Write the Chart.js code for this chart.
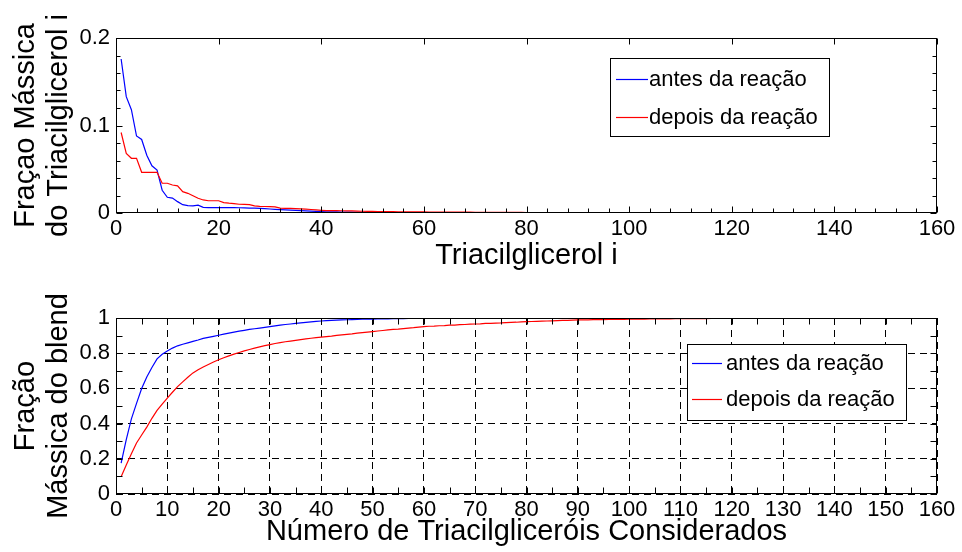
<!DOCTYPE html>
<html>
<head>
<meta charset="utf-8">
<script src="https://cdn.jsdelivr.net/npm/chart.js@4/dist/chart.umd.min.js"></script>
<style>
  html, body { margin: 0; padding: 0; background: #fff; }
  #wrap { position: relative; width: 962px; height: 552px; }
  canvas { position: absolute; left: 0; }
</style>
</head>
<body>
<div id="wrap">
  <canvas id="topChart" width="962" height="276" style="top:0"></canvas>
  <canvas id="bottomChart" width="962" height="276" style="top:276px"></canvas>
</div>
<script>
// ---- data ----
const labelAntes = 'antes da reação';
const labelDepois = 'depois da reação';

// mass fraction of each triacylglycerol i (i = 1, 2, ...)
const fracAntes = [
  0.176, 0.133, 0.118, 0.088, 0.084, 0.066, 0.054, 0.049, 0.026, 0.018,
  0.017, 0.013, 0.0095, 0.0085, 0.0082, 0.009, 0.0065, 0.0062, 0.0062, 0.0062,
  0.0062, 0.0062, 0.0061, 0.0060, 0.0058, 0.0056, 0.0055, 0.0052, 0.0050, 0.0046,
  0.0042, 0.0039, 0.0036, 0.0033, 0.0030, 0.0027, 0.0024, 0.0021, 0.0018, 0.0016,
  0.0014, 0.0013, 0.0012, 0.0011, 0.0010, 0.0009, 0.0008, 0.0008, 0.0007, 0.0007,
  0.0006, 0.0006, 0.0005, 0.0005, 0.0005, 0.0004, 0.0004, 0.0004, 0.0003, 0.0003,
  0.0003, 0.0003, 0.0002, 0.0002, 0.0002, 0.0002, 0.0001, 0.0001, 0.0001, 0.0001,
  0.0001
];
const fracDepois = [
  0.092, 0.068, 0.0625, 0.0625, 0.0465, 0.0465, 0.0465, 0.0465, 0.034, 0.034,
  0.032, 0.031, 0.0244, 0.0225, 0.0198, 0.0168, 0.0149, 0.014, 0.014, 0.014,
  0.0118, 0.0112, 0.0108, 0.0100, 0.0098, 0.0095, 0.0082, 0.0076, 0.0074, 0.0072,
  0.0070, 0.0056, 0.0053, 0.0052, 0.0050, 0.0047, 0.0044, 0.0040, 0.0035, 0.0031,
  0.0028, 0.0027, 0.0027, 0.0026, 0.0025, 0.0024, 0.0022, 0.0020, 0.0019, 0.0018,
  0.0017, 0.0016, 0.0016, 0.0015, 0.0014, 0.0014, 0.0013, 0.0013, 0.0012, 0.0012,
  0.0011, 0.0011, 0.0010, 0.0010, 0.0010, 0.0009, 0.0009, 0.0009, 0.0009, 0.0008,
  0.0008, 0.0008, 0.0008, 0.0008, 0.0007, 0.0007, 0.0007, 0.0007, 0.0007, 0.0006,
  0.0006, 0.0006, 0.0006, 0.0006, 0.0005, 0.0005, 0.0005, 0.0005, 0.0005, 0.0005,
  0.0004, 0.0004, 0.0004, 0.0004, 0.0004, 0.0004, 0.0004, 0.0004, 0.0004, 0.0003,
  0.0003, 0.0003, 0.0003, 0.0003, 0.0003, 0.0003, 0.0003, 0.0003, 0.0003, 0.0003,
  0.0002, 0.0002, 0.0002, 0.0002, 0.0002, 0.0002, 0.0002, 0.0002, 0.0002, 0.0002,
  0.0002, 0.0002, 0.0002, 0.0002, 0.0002, 0.0001, 0.0001, 0.0001, 0.0001, 0.0001,
  0.0001
];

// blend mass fraction covered by the first n triacylglycerols
const blendAntes = [
  0.176, 0.309, 0.427, 0.515, 0.599, 0.665, 0.719, 0.768, 0.794, 0.812,
  0.829, 0.842, 0.851, 0.859, 0.867, 0.875, 0.884, 0.890, 0.896, 0.902,
  0.908, 0.914, 0.920, 0.925, 0.930, 0.935, 0.939, 0.943, 0.947, 0.951,
  0.955, 0.959, 0.963, 0.966, 0.969, 0.972, 0.975, 0.978, 0.981, 0.983,
  0.985, 0.987, 0.988, 0.989, 0.990, 0.991, 0.992, 0.993, 0.9935, 0.994,
  0.9945, 0.995, 0.9955, 0.996, 0.9965, 0.997, 0.9975, 0.998, 0.9982, 0.9984,
  0.9986, 0.9988, 0.999, 0.9992, 0.9994, 0.9996, 0.9997, 0.9998, 0.9999, 1.0,
  1.0
];
const blendDepois = [
  0.098, 0.165, 0.228, 0.290, 0.335, 0.380, 0.430, 0.475, 0.510, 0.545,
  0.578, 0.610, 0.637, 0.663, 0.688, 0.706, 0.722, 0.736, 0.750, 0.763,
  0.774, 0.785, 0.795, 0.804, 0.813, 0.821, 0.829, 0.836, 0.843, 0.849,
  0.855, 0.860, 0.865, 0.869, 0.873, 0.877, 0.881, 0.885, 0.888, 0.891,
  0.894, 0.897, 0.901, 0.904, 0.907, 0.910, 0.914, 0.917, 0.920, 0.923,
  0.926, 0.929, 0.932, 0.935, 0.937, 0.940, 0.943, 0.945, 0.948, 0.951,
  0.953, 0.954, 0.956, 0.957, 0.959, 0.960, 0.962, 0.963, 0.965, 0.966,
  0.967, 0.969, 0.970, 0.971, 0.972, 0.974, 0.975, 0.976, 0.978, 0.979,
  0.980, 0.981, 0.982, 0.983, 0.984, 0.985, 0.986, 0.987, 0.988, 0.989,
  0.9894, 0.9898, 0.9902, 0.9906, 0.991, 0.9914, 0.9918, 0.9922, 0.9926, 0.993,
  0.9933, 0.9936, 0.9939, 0.9942, 0.9945, 0.9948, 0.9951, 0.9954, 0.9957, 0.996,
  0.9962, 0.9964, 0.9966, 0.9968, 0.997, 0.9972, 0.9974, 0.9976, 0.9978, 0.998,
  0.9982, 0.9984, 0.9986, 0.9988, 0.999, 0.9992, 0.9994, 0.9996, 0.9998, 0.9999,
  1.0
];

// tick labels
const topXTicks = [0, 20, 40, 60, 80, 100, 120, 140, 160];
const topYTicks = [0, 0.1, 0.2];
const bottomXTicks = [0, 10, 20, 30, 40, 50, 60, 70, 80, 90, 100, 110, 120, 130, 140, 150, 160];
const bottomYTicks = [0, 0.2, 0.4, 0.6, 0.8, 1];

// ---- styling helpers ----
const FONT = '"Liberation Sans", Arial, Helvetica, sans-serif';
const BLUE = '#0000ff';
const RED = '#ff0000';
const SERIES_COLORS = [BLUE, RED];

const toPoints = arr => arr.map((v, k) => ({ x: k + 1, y: v }));
const fmt = v => String(Math.round(v * 10) / 10);
const stepsBetween = (min, max, step) => {
  const out = [];
  for (let k = 0; min + k * step <= max + 1e-9; k++) out.push(min + k * step);
  return out;
};

// plot frame with inward tick marks
const frameTicks = {
  id: 'frameTicks',
  afterDatasetsDraw(chart, args, o) {
    const { ctx, chartArea: a, scales: { x, y } } = chart;
    const L = Math.round(a.left) + 0.5, R = Math.round(a.right) - 0.5;
    const T = Math.round(a.top) + 0.5, B = Math.round(a.bottom) - 0.5;
    ctx.save();
    ctx.strokeStyle = '#000';
    ctx.lineWidth = 1;
    ctx.setLineDash([]);
    ctx.beginPath();
    stepsBetween(x.min, x.max, o.xStep).forEach(v => {
      const px = Math.round(x.getPixelForValue(v)) + 0.5;
      const major = Math.abs(v / o.xMajor - Math.round(v / o.xMajor)) < 1e-6;
      const len = major ? o.majorLen : o.minorLen;
      ctx.moveTo(px, B); ctx.lineTo(px, B - len);
      if (major || o.topMinor) { ctx.moveTo(px, T); ctx.lineTo(px, T + len); }
    });
    stepsBetween(y.min, y.max, o.yStep).forEach(v => {
      const py = Math.round(y.getPixelForValue(v)) + 0.5;
      const major = Math.abs(v / o.yMajor - Math.round(v / o.yMajor)) < 1e-6;
      const len = major ? o.majorLen : o.minorLen;
      ctx.moveTo(L, py); ctx.lineTo(L + len, py);
      ctx.moveTo(R, py); ctx.lineTo(R - len, py);
    });
    ctx.stroke();
    ctx.strokeRect(L, T, R - L, B - T);
    ctx.restore();
  }
};

// boxed legend inside the plot area
const boxLegend = {
  id: 'boxLegend',
  afterDraw(chart, args, o) {
    const ctx = chart.ctx;
    ctx.save();
    ctx.setLineDash([]);
    ctx.fillStyle = '#ffffff';
    ctx.fillRect(o.left, o.top, o.width, o.height);
    ctx.strokeStyle = '#000000';
    ctx.lineWidth = 1;
    ctx.strokeRect(o.left + 0.5, o.top + 0.5, o.width, o.height);
    ctx.font = '22px ' + FONT;
    ctx.textBaseline = 'middle';
    ctx.textAlign = 'left';
    chart.data.datasets.forEach((ds, i) => {
      const ry = o.top + o.rows[i];
      const yy = Math.round(ry) + 0.5;
      ctx.beginPath();
      ctx.lineWidth = 1.2;
      ctx.strokeStyle = SERIES_COLORS[i];
      ctx.moveTo(o.left + o.lineStart, yy);
      ctx.lineTo(o.left + o.lineEnd, yy);
      ctx.stroke();
      ctx.fillStyle = '#000000';
      ctx.fillText(ds.label, o.left + o.textStart, ry + 1);
    });
    ctx.restore();
  }
};

function lineSet(label, values, color, order) {
  return {
    label, data: toPoints(values), borderColor: color, backgroundColor: color,
    borderWidth: 1.2, pointRadius: 0, tension: 0, fill: false, order
  };
}

function makeChart(id, cfg) {
  return new Chart(document.getElementById(id), {
    type: 'line',
    data: {
      datasets: [
        lineSet(labelAntes, cfg.antes, SERIES_COLORS[0], 1),
        lineSet(labelDepois, cfg.depois, SERIES_COLORS[1], 0)
      ]
    },
    options: {
      responsive: false,
      animation: false,
      events: [],
      layout: { padding: { top: cfg.padTop, right: 25, left: 0, bottom: 0 } },
      scales: {
        x: {
          type: 'linear', min: 0, max: 160,
          afterBuildTicks: s => { s.ticks = cfg.xTicks.map(v => ({ value: v })); },
          afterFit: s => { s.height = cfg.xHeight; },
          ticks: { autoSkip: false, maxRotation: 0, padding: 3, color: '#000',
                   font: { family: FONT, size: 22 }, callback: v => String(v) },
          grid: { display: cfg.grid, drawTicks: false, color: '#000', lineWidth: 1 },
          border: { display: false, dash: [7, 5] },
          title: { display: true, text: cfg.xTitle, color: '#000',
                   font: { family: FONT, size: 29, lineHeight: 1.2 },
                   padding: { top: 0, bottom: 3 } }
        },
        y: {
          type: 'linear', min: 0, max: cfg.yMax,
          afterBuildTicks: s => { s.ticks = cfg.yTicks.map(v => ({ value: v })); },
          afterFit: s => { s.width = 116; },
          ticks: { padding: 6, color: '#000', font: { family: FONT, size: 22 }, callback: fmt },
          grid: { display: cfg.grid, drawTicks: false, color: '#000', lineWidth: 1 },
          border: { display: false, dash: [7, 5] },
          title: { display: true, text: cfg.yTitle, color: '#000',
                   font: { family: FONT, size: 29, lineHeight: 1.15 },
                   padding: { top: 9, bottom: 0 } }
        }
      },
      plugins: {
        legend: { display: false },
        tooltip: { enabled: false },
        frameTicks: cfg.ticks,
        boxLegend: cfg.legend
      }
    },
    plugins: [frameTicks, boxLegend]
  });
}

makeChart('topChart', {
  antes: fracAntes, depois: fracDepois,
  xTicks: topXTicks, yTicks: topYTicks, yMax: 0.2,
  padTop: 38, xHeight: 63, grid: false,
  xTitle: 'Triacilglicerol i',
  yTitle: ['Fraçao Mássica', 'do Triacilglicerol i'],
  ticks: { xStep: 4, xMajor: 20, yStep: 0.02, yMajor: 0.1, majorLen: 6, minorLen: 4, topMinor: false },
  legend: { left: 610, top: 58, width: 219, height: 78, rows: [21, 59], lineStart: 6, lineEnd: 38, textStart: 39 }
});

makeChart('bottomChart', {
  antes: blendAntes, depois: blendDepois,
  xTicks: bottomXTicks, yTicks: bottomYTicks, yMax: 1,
  padTop: 42, xHeight: 58, grid: true,
  xTitle: 'Número de Triacilgliceróis Considerados',
  yTitle: ['Fração', 'Mássica do blend'],
  ticks: { xStep: 5, xMajor: 10, yStep: 0.1, yMajor: 0.2, majorLen: 6, minorLen: 6, topMinor: true },
  legend: { left: 687, top: 68, width: 219, height: 76, rows: [19, 55], lineStart: 5, lineEnd: 35, textStart: 39 }
});
</script>
</body>
</html>
